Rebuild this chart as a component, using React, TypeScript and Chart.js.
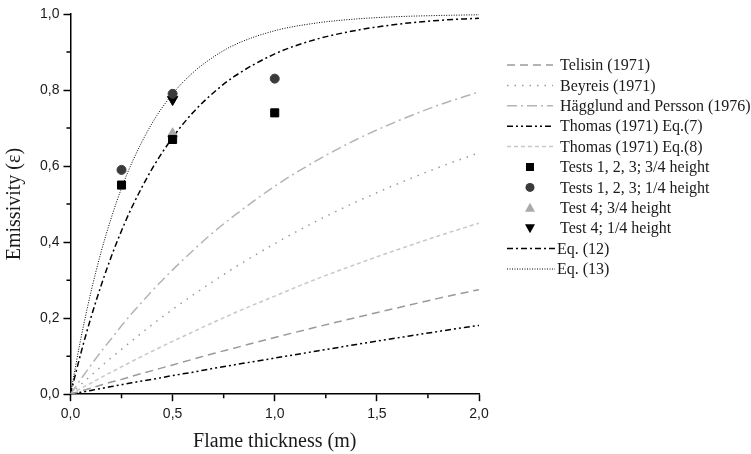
import React, { useEffect, useRef } from 'react';
import { Chart, registerables } from 'chart.js';
Chart.register(...registerables);

// Flame thickness samples (m) at which the model curves were read
const thicknessX = [0, 0.05, 0.1, 0.15, 0.2, 0.25, 0.3, 0.4, 0.5, 0.6, 0.7, 0.8, 1.0, 1.2, 1.4, 1.6, 1.8, 2.0];
const telisin = [0, 0.008, 0.016, 0.024, 0.032, 0.039, 0.047, 0.062, 0.077, 0.092, 0.107, 0.121, 0.149, 0.176, 0.202, 0.227, 0.252, 0.275];
const beyreis = [0, 0.025, 0.049, 0.073, 0.096, 0.118, 0.14, 0.183, 0.223, 0.261, 0.297, 0.332, 0.396, 0.454, 0.506, 0.553, 0.596, 0.635];
const hagglund = [0, 0.039, 0.076, 0.112, 0.146, 0.18, 0.212, 0.272, 0.327, 0.378, 0.426, 0.469, 0.547, 0.613, 0.67, 0.718, 0.76, 0.795];
const thomas7 = [0, 0.005, 0.01, 0.015, 0.02, 0.025, 0.03, 0.039, 0.049, 0.058, 0.068, 0.077, 0.095, 0.113, 0.131, 0.148, 0.165, 0.181];
const thomas8 = [0, 0.015, 0.029, 0.044, 0.058, 0.072, 0.086, 0.113, 0.139, 0.164, 0.189, 0.213, 0.258, 0.302, 0.342, 0.38, 0.416, 0.45];
const eq12 = [0, 0.106, 0.201, 0.286, 0.362, 0.43, 0.491, 0.593, 0.675, 0.741, 0.793, 0.835, 0.895, 0.933, 0.957, 0.973, 0.983, 0.989];
const eq13 = [0, 0.144, 0.268, 0.374, 0.464, 0.542, 0.608, 0.713, 0.79, 0.846, 0.887, 0.918, 0.956, 0.976, 0.987, 0.993, 0.996, 0.998];

// Measurements
const testsX = [0.25, 0.5, 1.0];
const tests123Height34 = [0.55, 0.67, 0.74];
const tests123Height14 = [0.59, 0.79, 0.83];
const test4X = [0.5];
const test4Height34 = [0.685];
const test4Height14 = [0.775];

const xTickLabels = ['0,0', '0,5', '1,0', '1,5', '2,0'];
const yTickLabels = ['0,0', '0,2', '0,4', '0,6', '0,8', '1,0'];

const toPts = (xs: number[], ys: number[]) => xs.map((x, i) => ({ x, y: ys[i] }));

const serif = '"Liberation Serif", "Times New Roman", serif';
const sans = '"Liberation Sans", Arial, sans-serif';

const lineDs = (label: string, ys: number[], color: string, dash: number[], width: number) => ({
  label,
  data: toPts(thicknessX, ys),
  showLine: true,
  borderColor: color,
  backgroundColor: color,
  borderDash: dash,
  borderWidth: width,
  pointRadius: 0,
  cubicInterpolationMode: 'monotone',
  order: 5,
  kind: 'line',
});

const ptDs = (label: string, xs: number[], ys: number[], color: string, style: string, radius: number, rotation: number, order: number) => ({
  label,
  data: toPts(xs, ys),
  showLine: false,
  borderColor: color,
  backgroundColor: color,
  pointStyle: style,
  pointRadius: radius,
  pointRotation: rotation,
  pointBorderWidth: 1,
  order,
  kind: 'point',
});

const legendPlugin = {
  id: 'sideLegend',
  afterDraw(chart: any) {
    const ctx = chart.ctx;
    ctx.save();
    ctx.font = '16px ' + serif;
    ctx.textBaseline = 'middle';
    chart.data.datasets.forEach((ds: any, i: number) => {
      const y = 65 + i * 20.4;
      const isEq = ds.label.startsWith('Eq.');
      if (ds.kind === 'line') {
        ctx.save();
        ctx.strokeStyle = ds.borderColor;
        ctx.lineWidth = ds.borderWidth;
        ctx.setLineDash(ds.borderDash);
        ctx.beginPath();
        ctx.moveTo(507, y);
        ctx.lineTo(isEq ? 555 : 553, y);
        ctx.stroke();
        ctx.restore();
      } else {
        ctx.save();
        ctx.fillStyle = ds.backgroundColor;
        const cx = 530;
        ctx.beginPath();
        if (ds.pointStyle === 'rect') {
          ctx.rect(cx - 4, y - 4, 8, 8);
        } else if (ds.pointStyle === 'circle') {
          ctx.arc(cx, y, 4.5, 0, Math.PI * 2);
        } else if (ds.pointRotation === 180) {
          ctx.moveTo(cx - 5, y - 4);
          ctx.lineTo(cx + 5, y - 4);
          ctx.lineTo(cx, y + 5);
          ctx.closePath();
        } else {
          ctx.moveTo(cx - 5, y + 4);
          ctx.lineTo(cx + 5, y + 4);
          ctx.lineTo(cx, y - 5);
          ctx.closePath();
        }
        ctx.fill();
        ctx.restore();
      }
      ctx.fillStyle = '#1a1a1a';
      ctx.fillText(ds.label, isEq ? 557 : 560, y + 1);
    });
    ctx.restore();
  },
};

const minorTicksPlugin = {
  id: 'minorTicks',
  afterDraw(chart: any) {
    const ctx = chart.ctx;
    const xs = chart.scales.x;
    const ys = chart.scales.y;
    const area = chart.chartArea;
    ctx.save();
    ctx.strokeStyle = '#000';
    ctx.lineWidth = 1.5;
    ctx.beginPath();
    [0.25, 0.75, 1.25, 1.75].forEach((v) => {
      const px = xs.getPixelForValue(v);
      ctx.moveTo(px, area.bottom);
      ctx.lineTo(px, area.bottom + 4);
    });
    [0.1, 0.3, 0.5, 0.7, 0.9].forEach((v) => {
      const py = ys.getPixelForValue(v);
      ctx.moveTo(area.left, py);
      ctx.lineTo(area.left - 4, py);
    });
    ctx.stroke();
    ctx.restore();
  },
};

export default function App() {
  const ref = useRef<HTMLCanvasElement | null>(null);
  useEffect(() => {
    if (!ref.current) return;
    const datasets: any[] = [
      lineDs('Telisin (1971)', telisin, '#9a9a9a', [8, 5], 1.5),
      lineDs('Beyreis (1971)', beyreis, '#9a9a9a', [1.5, 6], 1.5),
      lineDs('Hägglund and Persson (1976)', hagglund, '#b4b4b4', [10, 4, 2, 4], 1.5),
      lineDs('Thomas (1971) Eq.(7)', thomas7, '#000000', [6, 3, 2, 3, 2, 3], 1.5),
      lineDs('Thomas (1971) Eq.(8)', thomas8, '#c8c8c8', [4, 3], 1.5),
      ptDs('Tests 1, 2, 3; 3/4 height', testsX, tests123Height34, '#000000', 'rect', 5.7, 0, 1),
      ptDs('Tests 1, 2, 3; 1/4 height', testsX, tests123Height14, '#3a3a3a', 'circle', 4.5, 0, 0),
      ptDs('Test 4; 3/4 height', test4X, test4Height34, '#aaaaaa', 'triangle', 6, 0, 2),
      ptDs('Test 4; 1/4 height', test4X, test4Height14, '#000000', 'triangle', 6, 180, 3),
      lineDs('Eq. (12)', eq12, '#000000', [6, 3, 2, 3], 1.5),
      lineDs('Eq. (13)', eq13, '#000000', [1, 1.5], 1),
    ];
    const chart = new Chart(ref.current, {
      type: 'scatter',
      data: { datasets },
      plugins: [legendPlugin, minorTicksPlugin],
      options: {
        animation: false,
        responsive: true,
        maintainAspectRatio: false,
        layout: { padding: { top: 14, right: 272, bottom: 0, left: 0 } },
        plugins: { legend: { display: false }, tooltip: { enabled: false } },
        scales: {
          x: {
            type: 'linear',
            min: 0,
            max: 2,
            ticks: {
              stepSize: 0.5,
              padding: 5,
              color: '#1a1a1a',
              font: { family: sans, size: 14 },
              callback: (v: any) => xTickLabels[Math.round(Number(v) * 2)] ?? '',
            },
            grid: { drawOnChartArea: false, drawTicks: true, tickLength: 7, tickColor: '#000', tickWidth: 1.5 },
            border: { display: true, color: '#000', width: 1.5 },
            title: {
              display: true,
              text: 'Flame thickness (m)',
              color: '#1a1a1a',
              font: { family: serif, size: 20, lineHeight: 1.2 },
              padding: { top: 2, bottom: 0 },
            },
          },
          y: {
            type: 'linear',
            min: 0,
            max: 1,
            ticks: {
              stepSize: 0.2,
              padding: 4,
              color: '#1a1a1a',
              font: { family: sans, size: 14 },
              callback: (v: any) => yTickLabels[Math.round(Number(v) * 5)] ?? '',
            },
            grid: { drawOnChartArea: false, drawTicks: true, tickLength: 7, tickColor: '#000', tickWidth: 1.5 },
            border: { display: true, color: '#000', width: 1.5 },
            title: {
              display: true,
              text: 'Emissivity (ε)',
              color: '#1a1a1a',
              font: { family: serif, size: 20, lineHeight: 1.2 },
              padding: { top: 3, bottom: 9 },
            },
          },
        },
      } as any,
    });
    return () => chart.destroy();
  }, []);
  return (
    <div style={{ position: 'fixed', left: 0, top: 0, width: 751, height: 454, background: '#fff' }}>
      <canvas ref={ref} />
    </div>
  );
}
